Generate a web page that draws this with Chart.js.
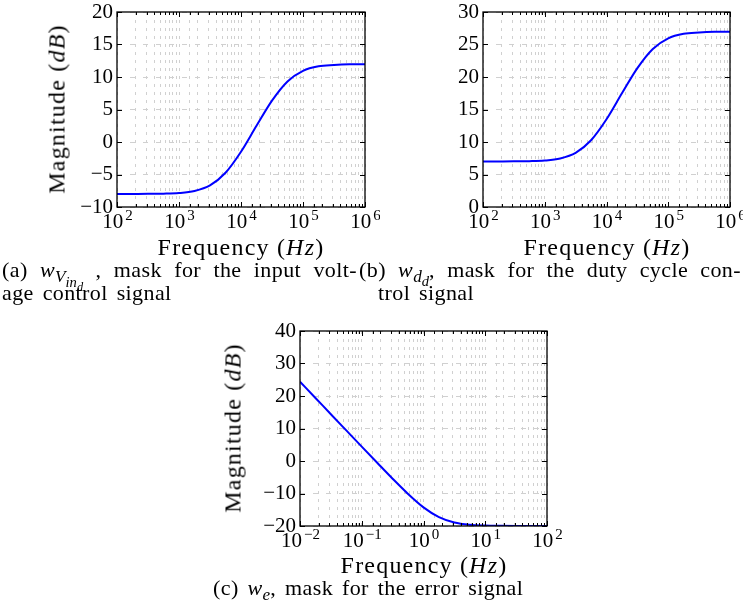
<!DOCTYPE html>
<html>
<head>
<meta charset="utf-8">
<script src="https://cdn.jsdelivr.net/npm/chart.js@4"></script>
<style>
  body { margin: 0; background: #fff; }
  #page { position: relative; width: 743px; height: 604px; overflow: hidden; font-family: 'Liberation Serif', serif; color: #000; }
  .box { position: absolute; }
  .lbl { position: absolute; white-space: nowrap; font-size: 24px; letter-spacing: 1.2px; transform: translate(-50%, -50%); }
  .rot { transform: translate(-50%, -50%) rotate(-90deg); }
  .cap { position: absolute; white-space: nowrap; font-size: 22px; letter-spacing: 0.4px; word-spacing: 3px; }
  .just { text-align: justify; text-align-last: justify; word-spacing: 0; }
  i { font-style: italic; }
  sub { font-size: 78%; vertical-align: -0.3em; line-height: 0; letter-spacing: 0; }
  sub sub { font-size: 85%; }
</style>
</head>
<body>
<div id="page">
  <div class="box" style="left:0;top:0"><canvas id="ca" width="380" height="235"></canvas></div>
  <div class="box" style="left:370px;top:0"><canvas id="cb" width="373" height="235"></canvas></div>
  <div class="box" style="left:200px;top:320px"><canvas id="cc" width="380" height="235"></canvas></div>

  <div class="lbl rot" style="left:57px;top:109px">Magnitude (<i>dB</i>)</div>
  <div class="lbl" style="left:241px;top:247px">Frequency (<i>Hz</i>)</div>
  <div class="lbl" style="left:607px;top:247px">Frequency (<i>Hz</i>)</div>
  <div class="lbl rot" style="left:233px;top:428px">Magnitude (<i>dB</i>)</div>
  <div class="lbl" style="left:424px;top:565px">Frequency (<i>Hz</i>)</div>

  <div class="cap just" style="left:2px;top:257px;width:355px">(a) <i>w</i><sub><i>V</i><sub><i>in</i><sub><i>d</i></sub></sub></sub> , mask for the input volt-</div>
  <div class="cap" style="left:2px;top:280px">age control signal</div>
  <div class="cap just" style="left:359px;top:257px;width:382px">(b) <i>w</i><sub><i>d</i><sub><i>d</i></sub></sub>, mask for the duty cycle con-</div>
  <div class="cap" style="left:378px;top:280px">trol signal</div>
  <div class="cap" style="left:213px;top:575px">(c) <i>w</i><sub><i>e</i></sub>, mask for the error signal</div>
</div>
<script>
// frequencies (Hz), quarter-decade steps
const freqAB = [100, 178, 316, 562, 1000, 1778, 3162, 5623, 10000, 17783, 31623, 56234, 100000, 177828, 316228, 562341, 1000000];
const magA = [-8.00, -7.99, -7.98, -7.95, -7.85, -7.53, -6.67, -4.73, -1.50, 2.49, 6.37, 9.32, 10.95, 11.64, 11.84, 11.95, 11.98];
const magB = [7.00, 7.01, 7.02, 7.05, 7.15, 7.47, 8.33, 10.27, 13.50, 17.49, 21.37, 24.32, 25.95, 26.64, 26.84, 26.95, 26.98];
const freqC = [0.01, 0.0178, 0.0316, 0.0562, 0.1, 0.178, 0.316, 0.562, 1, 1.78, 3.16, 5.62, 10, 17.8, 31.6, 56.2, 100];
const magC = [24.40, 19.40, 14.40, 9.41, 4.42, -0.55, -5.45, -10.13, -14.26, -17.28, -18.94, -19.64, -19.88, -19.96, -19.99, -20.00, -20.00];

const FONT = "'Liberation Serif', serif";
const isPow10 = v => Math.abs(Math.log10(v) - Math.round(Math.log10(v))) < 1e-9;

// frame, inside tick marks and 10^n labels
const frame = {
  id: 'frame',
  afterDraw(chart) {
    const { ctx, chartArea: a, scales: { x, y } } = chart;
    ctx.save();
    ctx.strokeStyle = '#000';
    ctx.lineWidth = 1;
    ctx.beginPath();
    x.ticks.forEach(t => {
      const px = Math.round(x.getPixelForValue(t.value)) + 0.5;
      const len = isPow10(t.value) ? 5 : 3;
      ctx.moveTo(px, a.bottom); ctx.lineTo(px, a.bottom - len);
      ctx.moveTo(px, a.top); ctx.lineTo(px, a.top + len);
    });
    y.ticks.forEach(t => {
      const py = Math.round(y.getPixelForValue(t.value)) + 0.5;
      ctx.moveTo(a.left, py); ctx.lineTo(a.left + 5, py);
      ctx.moveTo(a.right, py); ctx.lineTo(a.right - 5, py);
    });
    ctx.stroke();
    ctx.lineWidth = 1.3;
    ctx.strokeRect(a.left, a.top, a.right - a.left, a.bottom - a.top);

    ctx.fillStyle = '#000';
    ctx.textBaseline = 'alphabetic';
    ctx.textAlign = 'left';
    x.ticks.forEach(t => {
      if (!isPow10(t.value)) return;
      const e = Math.round(Math.log10(t.value));
      const sup = e < 0 ? '\u2212' + (-e) : String(e);
      const px = x.getPixelForValue(t.value);
      ctx.font = '21px ' + FONT;
      const wb = ctx.measureText('10').width + 1;
      ctx.font = '15px ' + FONT;
      const ws = ctx.measureText(sup).width;
      const start = px - (wb + ws) / 2;
      ctx.font = '21px ' + FONT;
      ctx.fillText('10', start, a.bottom + 21);
      ctx.font = '15px ' + FONT;
      ctx.fillText(sup, start + wb + 1, a.bottom + 13);
    });
    ctx.restore();
  }
};

function makeChart(id, freq, mag, opt) {
  new Chart(document.getElementById(id), {
    type: 'line',
    data: {
      datasets: [{
        data: freq.map((f, i) => ({ x: f, y: mag[i] })),
        borderColor: '#0000ff',
        borderWidth: 2,
        pointRadius: 0,
        cubicInterpolationMode: 'monotone',
        fill: false
      }]
    },
    options: {
      responsive: false,
      animation: false,
      events: [],
      layout: { padding: { top: opt.top, right: opt.right, left: 0, bottom: 0 } },
      plugins: { legend: { display: false }, tooltip: { enabled: false } },
      scales: {
        x: {
          type: 'logarithmic',
          min: opt.xmin, max: opt.xmax,
          grid: { color: '#d0d0d0', lineWidth: 1, drawTicks: false },
          border: { display: false, dash: [3, 5] },
          ticks: { autoSkip: false, maxRotation: 0, callback: () => '' },
          afterFit(s) { s.height = opt.xh; s.paddingLeft = 0; s.paddingRight = 0; }
        },
        y: {
          min: opt.ymin, max: opt.ymax,
          grid: { color: '#d0d0d0', lineWidth: 1, drawTicks: false },
          border: { display: false, dash: [5, 8] },
          ticks: {
            stepSize: opt.step, padding: 4, color: '#000',
            font: { family: FONT, size: 21 },
            callback: v => (v < 0 ? '\u2212' + (-v) : String(v))
          },
          afterFit(s) { s.width = opt.yw; s.paddingTop = 0; s.paddingBottom = 0; }
        }
      }
    },
    plugins: [frame]
  });
}

makeChart('ca', freqAB, magA, { xmin: 100, xmax: 1000000, ymin: -10, ymax: 20, step: 5, top: 12, right: 15, yw: 117, xh: 28 });
makeChart('cb', freqAB, magB, { xmin: 100, xmax: 1000000, ymin: 0, ymax: 30, step: 5, top: 12, right: 13, yw: 113, xh: 28 });
makeChart('cc', freqC, magC, { xmin: 0.01, xmax: 100, ymin: -20, ymax: 40, step: 10, top: 11, right: 33, yw: 100, xh: 29 });
</script>
</body>
</html>
